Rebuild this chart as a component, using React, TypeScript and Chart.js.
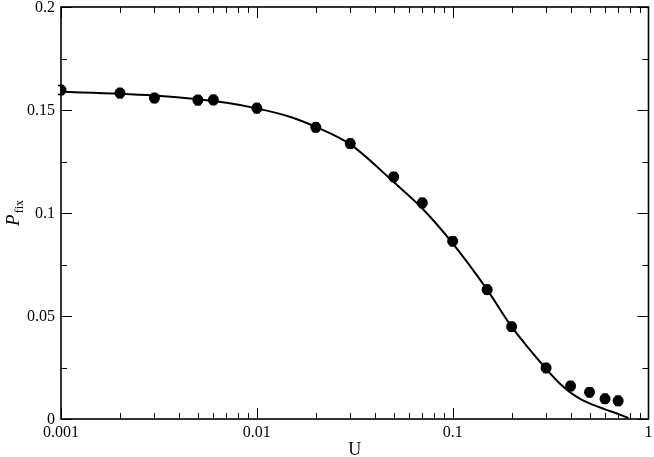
import React, { useEffect, useRef } from "react";
import { Chart, registerables } from "chart.js";

Chart.register(...registerables);

// Measured data points (U, P_fix) with small error bars
const pointU = [0.001, 0.002, 0.003, 0.005, 0.006, 0.01, 0.02, 0.03, 0.05, 0.07, 0.1, 0.15, 0.2, 0.3, 0.4, 0.5, 0.6, 0.7];
const pointP = [0.1597, 0.1582, 0.1558, 0.1548, 0.1549, 0.1509, 0.1416, 0.1337, 0.1175, 0.1049, 0.0863, 0.0628, 0.0448, 0.0248, 0.0160, 0.0130, 0.0098, 0.0088];
const pointErr = [0.0022, 0.0022, 0.0022, 0.0022, 0.0022, 0.0022, 0.0022, 0.0022, 0.0022, 0.0022, 0.0022, 0.0022, 0.0022, 0.0022, 0.0022, 0.0022, 0.0022, 0.0022];

// Theory curve
const curveU = [0.001, 0.002, 0.003, 0.005, 0.007, 0.01, 0.015, 0.02, 0.03, 0.05, 0.07, 0.1, 0.15, 0.2, 0.3, 0.35, 0.4, 0.45, 0.5, 0.6, 0.7, 0.79];
const curveP = [0.1588, 0.1579, 0.1570, 0.1552, 0.1535, 0.1508, 0.1465, 0.1418, 0.1333, 0.1150, 0.1022, 0.0853, 0.0628, 0.0448, 0.0243, 0.0175, 0.0128, 0.0097, 0.0076, 0.0047, 0.0024, 0.0005];

// Tick labels
const xTicks = [0.001, 0.01, 0.1, 1];
const xTickLabels = ["0.001", "0.01", "0.1", "1"];
const yTicks = [0, 0.05, 0.1, 0.15, 0.2];
const yTickLabels = ["0", "0.05", "0.1", "0.15", "0.2"];
const yMinorTicks = [0.025, 0.075, 0.125, 0.175];

const SERIF = "'Liberation Serif', 'DejaVu Serif', serif";

const framePlugin = {
  id: "frameAndTicks",
  afterDatasetsDraw(chart: any) {
    const { ctx, chartArea, scales } = chart;
    const xs = scales.x;
    const ys = scales.y;
    const { left, right, top, bottom } = chartArea;
    ctx.save();
    // error bars
    ctx.strokeStyle = "#000";
    ctx.lineWidth = 1.5;
    for (let i = 0; i < pointU.length; i++) {
      const px = xs.getPixelForValue(pointU[i]);
      const y1 = ys.getPixelForValue(pointP[i] - pointErr[i]);
      const y2 = ys.getPixelForValue(pointP[i] + pointErr[i]);
      ctx.beginPath();
      ctx.moveTo(px, y1);
      ctx.lineTo(px, y2);
      ctx.moveTo(px - 3, y1);
      ctx.lineTo(px + 3, y1);
      ctx.moveTo(px - 3, y2);
      ctx.lineTo(px + 3, y2);
      ctx.stroke();
    }
    // ticks
    ctx.lineWidth = 1;
    ctx.strokeStyle = "#000";
    const majLen = 11;
    const minLen = 6;
    ctx.beginPath();
    for (let d = -3; d < 0; d++) {
      for (let m = 1; m <= 9; m++) {
        const v = m * Math.pow(10, d);
        const px = Math.round(xs.getPixelForValue(v)) + 0.5;
        const len = m === 1 ? majLen : minLen;
        ctx.moveTo(px, bottom);
        ctx.lineTo(px, bottom - len);
        ctx.moveTo(px, top);
        ctx.lineTo(px, top + len);
      }
    }
    for (const v of yTicks) {
      const py = Math.round(ys.getPixelForValue(v)) + 0.5;
      ctx.moveTo(left, py);
      ctx.lineTo(left + majLen, py);
      ctx.moveTo(right, py);
      ctx.lineTo(right - majLen, py);
    }
    for (const v of yMinorTicks) {
      const py = Math.round(ys.getPixelForValue(v)) + 0.5;
      ctx.moveTo(left, py);
      ctx.lineTo(left + minLen, py);
      ctx.moveTo(right, py);
      ctx.lineTo(right - minLen, py);
    }
    ctx.stroke();
    // frame
    ctx.lineWidth = 1.6;
    ctx.strokeRect(left, top, right - left, bottom - top);

    // tick labels
    ctx.fillStyle = "#000";
    ctx.font = `16px ${SERIF}`;
    ctx.textAlign = "right";
    ctx.textBaseline = "middle";
    yTicks.forEach((v, i) => {
      ctx.fillText(yTickLabels[i], left - 6, ys.getPixelForValue(v) + 1);
    });
    ctx.textAlign = "center";
    ctx.textBaseline = "top";
    xTicks.forEach((v, i) => {
      ctx.fillText(xTickLabels[i], xs.getPixelForValue(v), bottom + 6);
    });

    // axis titles
    ctx.textBaseline = "alphabetic";
    ctx.textAlign = "center";
    ctx.font = `18px ${SERIF}`;
    ctx.fillText("U", (left + right) / 2, 455);

    // y title: P_fix rotated
    ctx.translate(19, (top + bottom) / 2);
    ctx.rotate(-Math.PI / 2);
    ctx.textAlign = "left";
    ctx.font = `italic 19px ${SERIF}`;
    const pw = ctx.measureText("P").width;
    ctx.font = `12px ${SERIF}`;
    const fw = ctx.measureText("fix").width;
    const total = pw + 1 + fw;
    ctx.font = `italic 19px ${SERIF}`;
    ctx.fillText("P", -total / 2, 0);
    ctx.font = `12px ${SERIF}`;
    ctx.fillText("fix", -total / 2 + pw + 1, 4);
    ctx.restore();
  },
};

export default function App() {
  const ref = useRef<HTMLCanvasElement | null>(null);
  useEffect(() => {
    document.body.style.margin = "0";
    const canvas = ref.current!;
    const chart = new Chart(canvas, {
      type: "scatter",
      data: {
        datasets: [
          {
            label: "simulation",
            data: pointU.map((u, i) => ({ x: u, y: pointP[i] })),
            showLine: false,
            pointRadius: 5.5,
            pointBackgroundColor: "#000",
            pointBorderColor: "#000",
            pointBorderWidth: 0,
          },
          {
            label: "theory",
            data: curveU.map((u, i) => ({ x: u, y: curveP[i] })),
            showLine: true,
            pointRadius: 0,
            borderColor: "#000",
            borderWidth: 2,
            cubicInterpolationMode: "monotone",
            fill: false,
          },
        ],
      },
      options: {
        animation: false,
        responsive: false,
        events: [],
        layout: { padding: { left: 0, right: 5, top: 7, bottom: 0 } },
        plugins: { legend: { display: false }, tooltip: { enabled: false } },
        scales: {
          x: {
            type: "logarithmic",
            min: 0.001,
            max: 1,
            grid: { display: false, drawTicks: false },
            border: { display: false },
            ticks: { display: false },
            afterFit: (s: any) => {
              s.height = 38;
              s.paddingLeft = 0;
              s.paddingRight = 0;
            },
          },
          y: {
            type: "linear",
            min: 0,
            max: 0.2,
            grid: { display: false, drawTicks: false },
            border: { display: false },
            ticks: { display: false },
            afterFit: (s: any) => {
              s.width = 61;
              s.paddingTop = 0;
              s.paddingBottom = 0;
            },
          },
        },
      },
      plugins: [framePlugin],
    } as any);
    return () => chart.destroy();
  }, []);
  return (
    <div style={{ position: "absolute", left: 0, top: 0, width: 654, height: 457, background: "#fff" }}>
      <canvas ref={ref} width={654} height={457} style={{ width: 654, height: 457, display: "block" }} />
    </div>
  );
}
